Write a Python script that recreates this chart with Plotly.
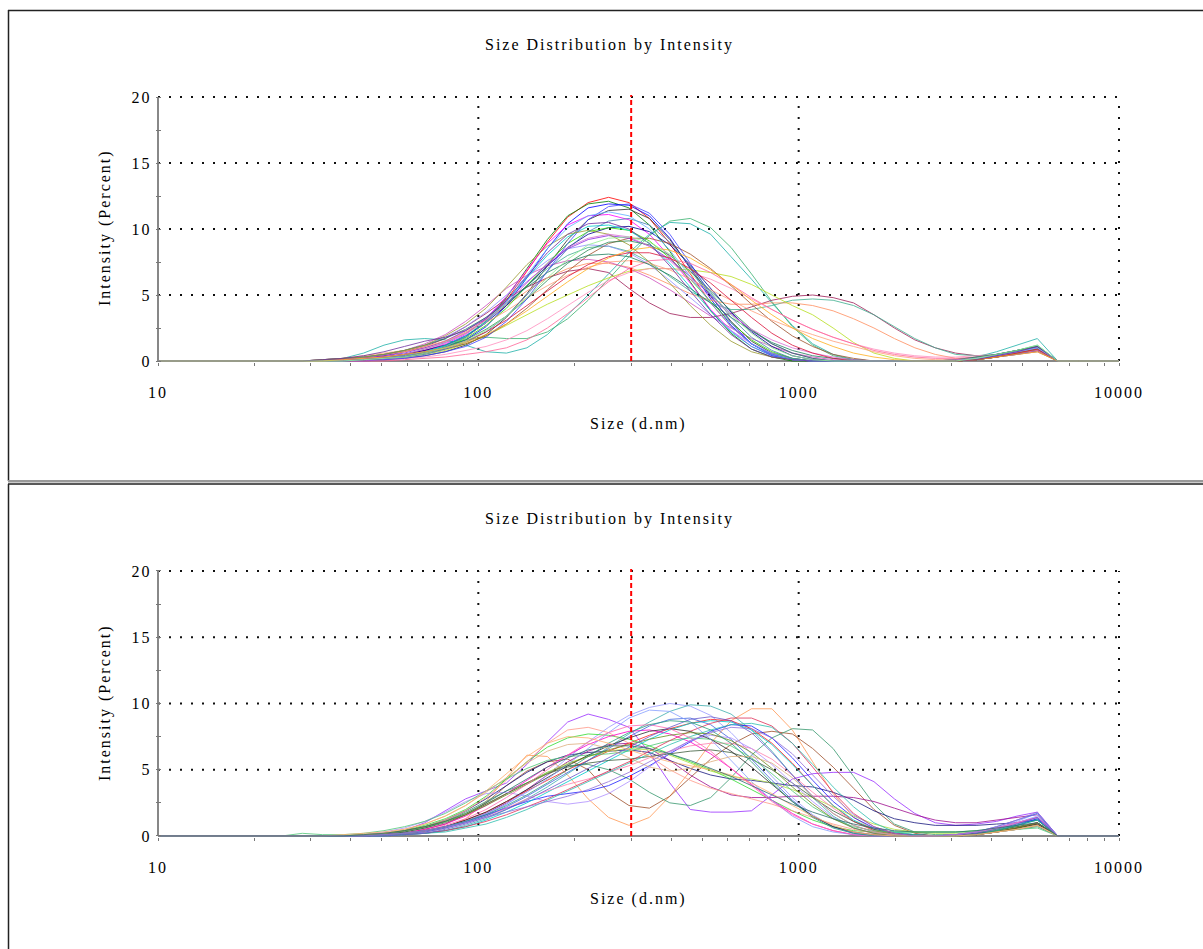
import plotly.graph_objects as go

# ---------------- data ----------------
# size classes (d.nm) of the instrument, from 10 nm to 10000 nm
SIZES_NM = [10.10, 11.70, 13.54, 15.69, 18.17, 21.04, 24.36, 28.21, 32.67, 37.84,
            43.82, 50.75, 58.77, 68.06, 78.82, 91.28, 105.7, 122.4, 141.8, 164.2,
            190.1, 220.2, 255.0, 295.3, 342.0, 396.1, 458.7, 531.2, 615.1, 712.4,
            825.0, 955.4, 1106, 1281, 1484, 1718, 1990, 2305, 2669, 3091,
            3580, 4145, 4801, 5560, 6439, 7456, 8635, 10000]
RUN_START_NM = 28.21   # each run below lists intensities from this class to 6439 nm

# ---- upper chart runs (Intensity %) ----
top_run_01 = [0,0,0.1,0.2,0.3, 0.5,0.8,1.2,1.8,2.9, 4.6,6.8,9.0,10.9,12.0, 12.4,12.0,10.8,8.9,6.6, 4.4,2.6,1.3,0.5,0.1, 0,0,0,0,0, 0,0,0,0.1,0.3, 0.6,0.9,0]
top_run_02 = [0,0,0,0.1,0.2, 0.4,0.7,1.1,1.8,3.0, 4.8,7.0,9.2,11.0,11.9, 12.1,11.6,10.3,8.3,6.0, 3.8,2.1,0.9,0.3,0, 0,0,0,0,0, 0,0,0,0.2,0.4, 0.7,1.0,0]
top_run_03 = [0,0,0,0.1,0.2, 0.3,0.6,1.0,1.6,2.6, 4.2,6.3,8.5,10.4,11.6, 11.9,11.8,11.0,9.3,7.0, 4.7,2.7,1.3,0.5,0.1, 0,0,0,0,0, 0,0,0,0.2,0.4, 0.7,1.0,0]
top_run_04 = [0,0,0.1,0.2,0.3, 0.5,0.8,1.3,2.0,3.2, 4.9,6.9,8.9,10.3,11.0, 11.1,10.7,9.6,7.9,5.9, 3.9,2.3,1.1,0.4,0.1, 0,0,0,0,0, 0,0,0,0.2,0.3, 0.6,0.8,0]
top_run_05 = [0,0,0,0,0.1, 0.2,0.4,0.7,1.2,2.0, 3.3,5.1,7.2,9.2,10.7, 11.4,11.5,10.8,9.2,7.1, 4.9,3.0,1.5,0.6,0.2, 0,0,0,0,0, 0,0,0,0.1,0.3, 0.6,0.9,0]
top_run_06 = [0,0,0.2,0.6,1.2, 1.6,1.7,1.6,1.2,0.7, 0.6,1.0,2.0,3.5,5.0, 6.6,8.2,9.6,10.5,10.4, 9.6,7.9,6.2,4.4,2.7, 1.3,0.5,0.1,0,0, 0,0,0.1,0.3,0.7, 1.2,1.7,0]
top_run_07 = [0,0,0,0.1,0.2, 0.4,0.7,1.1,1.6,1.8, 1.7,1.7,2.2,3.2,4.6, 6.2,7.9,9.5,10.6,10.8, 10.1,8.6,6.6,4.5,2.6, 1.2,0.4,0.1,0,0, 0,0,0,0.2,0.4, 0.7,1.0,0]
top_run_08 = [0,0,0.1,0.2,0.4, 0.7,1.1,1.7,2.6,3.6, 4.7,5.6,6.3,6.8,7.0, 6.7,5.5,4.4,3.6,3.3, 3.3,3.6,4.1,4.6,4.9, 5.0,4.8,4.4,3.5,2.5, 1.6,1.0,0.6,0.4,0.4, 0.6,0.8,0]
top_run_09 = [0,0,0.1,0.2,0.3, 0.5,0.9,1.4,2.1,3.1, 4.3,5.7,7.0,8.0,8.6, 8.7,8.3,7.5,6.4,5.3, 4.4,3.9,3.9,4.2,4.6, 4.7,4.6,4.2,3.5,2.6, 1.7,1.0,0.5,0.4,0.5, 0.8,1.2,0]
top_run_10 = [0,0,0.1,0.3,0.5, 0.7,1.0,1.5,2.2,3.1, 4.2,5.3,6.3,7.0,7.4, 7.4,7.1,6.5,5.8,5.1, 4.6,4.3,4.3,4.4,4.4, 4.2,3.8,3.2,2.5,1.7, 1.0,0.5,0.2,0.2,0.4, 0.6,0.8,0]
top_run_11 = [0,0,0,0.1,0.2, 0.3,0.5,0.8,1.3,1.9, 2.7,3.5,4.3,5.0,5.7, 6.3,6.8,7.0,7.0,6.9, 6.7,6.4,5.8,5.0,4.2, 3.5,2.5,1.4,0.6,0.2, 0,0,0,0.1,0.3, 0.5,0.7,0]
top_run_12 = [0,0.1,0.2,0.3,0.5, 0.8,1.3,2.0,3.0,4.2, 5.5,6.5,7.2,7.6,7.7, 7.5,7.0,6.3,5.4,4.4, 3.4,2.5,1.7,1.1,0.6, 0.3,0.1,0,0,0, 0,0,0,0.1,0.3, 0.5,0.7,0]
top_run_13 = [0,0,0,0,0.1, 0.2,0.3,0.5,0.8,1.1, 1.6,2.3,3.2,4.2,5.2, 6.1,6.7,7.0,7.0,6.7, 6.2,5.5,4.7,3.9,3.1, 2.4,1.8,1.3,0.9,0.6, 0.4,0.3,0.3,0.4,0.5, 0.7,0.9,0]
top_run_14 = [0,0,0.1,0.2,0.3, 0.5,0.8,1.2,1.9,2.9, 4.2,5.7,7.2,8.6,9.6, 10.1,10.2,9.8,8.8,7.3, 5.5,3.7,2.2,1.1,0.4, 0.1,0,0,0,0, 0,0,0,0.2,0.4, 0.6,0.8,0]
top_run_15 = [0,0,0.1,0.2,0.3, 0.4,0.6,0.9,1.3,1.9, 2.8,4.0,5.4,6.8,8.0, 8.9,9.3,9.3,8.9,8.1, 7.0,5.7,4.3,3.0,1.9, 1.1,0.5,0.2,0,0, 0,0,0.1,0.2,0.4, 0.6,0.9,0]
top_run_16 = [0,0.1,0.2,0.3,0.5, 0.8,1.2,1.8,2.6,3.7, 5.0,6.4,7.6,8.5,8.8, 8.7,8.2,7.3,6.1,4.8, 3.5,2.3,1.3,0.6,0.2, 0,0,0,0,0, 0,0,0,0.2,0.4, 0.7,1.0,0]
top_run_17 = [0,0,0,0.1,0.2, 0.4,0.7,1.1,1.7,2.7, 4.0,5.7,7.4,8.9,9.8, 10.1,9.9,9.1,7.8,6.2, 4.5,2.9,1.6,0.7,0.2, 0,0,0,0,0, 0,0,0,0.1,0.3, 0.6,0.8,0]
top_run_18 = [0,0,0.1,0.2,0.4, 0.6,1.0,1.5,2.3,3.3, 4.6,6.0,7.3,8.5,9.2, 9.5,9.3,8.7,7.7,6.4, 5.0,3.6,2.3,1.3,0.6, 0.2,0,0,0,0, 0,0,0,0.2,0.5, 0.8,1.1,0]
top_run_19 = [0,0.1,0.2,0.4,0.6, 0.8,1.1,1.5,2.1,2.9, 3.8,4.8,5.7,6.5,7.1, 7.5,7.6,7.4,6.9,6.2, 5.4,4.6,3.8,3.1,2.5, 2.0,1.5,1.1,0.7,0.4, 0.2,0.1,0.1,0.2,0.4, 0.6,0.8,0]
top_run_20 = [0,0,0,0.1,0.2, 0.4,0.7,1.1,1.6,2.4, 3.4,4.7,6.1,7.4,8.4, 9.0,9.1,8.8,8.0,6.8, 5.3,3.8,2.4,1.3,0.6, 0.2,0,0,0,0, 0,0,0,0.2,0.5, 0.8,1.1,0]
top_run_21 = [0,0,0,0.1,0.2, 0.4,0.7,1.2,1.9,3.0, 4.5,6.3,8.0,9.4,10.2, 10.3,9.9,8.9,7.4,5.6, 3.8,2.2,1.1,0.4,0.1, 0,0,0,0,0, 0,0,0,0.2,0.4, 0.6,0.9,0]
top_run_22 = [0,0,0,0,0.1, 0.2,0.4,0.7,1.1,1.8, 3.0,4.7,6.8,8.9,10.7, 11.7,11.9,11.2,9.6,7.4, 5.0,2.9,1.3,0.4,0.1, 0,0,0,0,0, 0,0,0,0.1,0.3, 0.5,0.8,0]
top_run_23 = [0,0,0,0,0, 0.1,0.2,0.3,0.5,0.7, 1.0,1.6,2.5,3.6,4.8, 6.0,7.0,7.6,7.7,7.4, 6.7,5.8,4.8,3.9,3.1, 2.4,1.8,1.3,0.8,0.5, 0.3,0.2,0.2,0.3,0.4, 0.6,0.8,0]
top_run_24 = [0,0.1,0.2,0.3,0.5, 0.8,1.2,1.7,2.4,3.3, 4.4,5.6,6.7,7.5,8.0, 8.1,7.9,7.3,6.5,5.5, 4.4,3.3,2.3,1.4,0.8, 0.4,0.2,0.1,0,0, 0,0,0.1,0.3,0.5, 0.8,1.1,0]
top_run_25 = [0,0.1,0.2,0.3,0.5, 0.8,1.2,1.9,2.8,4.0, 5.6,7.3,8.7,9.6,9.9, 9.6,8.8,7.5,5.9,4.2, 2.7,1.5,0.7,0.3,0.1, 0,0,0,0,0, 0,0,0,0.1,0.3, 0.6,0.9,0]
top_run_26 = [0,0,0,0.1,0.2, 0.3,0.5,0.9,1.4,2.2, 3.4,5.0,6.8,8.5,9.8, 10.6,10.8,10.3,9.0,7.2, 5.2,3.3,1.8,0.8,0.2, 0,0,0,0,0, 0,0,0,0.2,0.4, 0.7,1.0,0]
top_run_27 = [0,0,0.1,0.2,0.3, 0.5,0.9,1.4,2.1,3.1, 4.4,5.9,7.4,8.6,9.3, 9.6,9.4,8.7,7.6,6.2, 4.8,3.5,2.4,1.6,1.0, 0.6,0.3,0.1,0,0, 0,0,0.1,0.2,0.4, 0.7,1.0,0]
top_run_28 = [0,0,0,0.1,0.2, 0.4,0.7,1.0,1.5,2.2, 3.1,4.2,5.3,6.4,7.3, 7.9,8.2,8.2,7.8,7.0, 5.9,4.6,3.3,2.1,1.2, 0.6,0.2,0,0,0, 0,0,0,0.1,0.3, 0.6,0.9,0]
top_run_29 = [0,0,0,0.1,0.2, 0.4,0.7,1.1,1.8,2.9, 4.5,6.5,8.5,10.1,11.0, 11.3,11.0,10.0,8.4,6.4, 4.4,2.6,1.3,0.5,0.1, 0,0,0,0,0, 0,0,0,0.2,0.4, 0.7,1.0,0]
top_run_30 = [0,0,0.1,0.2,0.3, 0.5,0.7,1.0,1.4,2.0, 2.8,3.8,4.9,6.0,7.0, 7.8,8.4,8.6,8.4,7.8, 6.9,5.8,4.6,3.5,2.5, 1.7,1.1,0.6,0.3,0.1, 0,0,0,0.1,0.3, 0.5,0.7,0]
top_run_31 = [0,0.1,0.2,0.4,0.7, 1.1,1.5,1.8,2.3,3.2, 4.6,6.4,8.2,9.6,10.4, 10.5,10.0,8.9,7.2,5.3, 3.5,2.0,0.9,0.3,0.1, 0,0,0,0,0, 0,0,0,0.1,0.4, 0.7,1.1,0]
top_run_32 = [0,0,0,0.1,0.2, 0.3,0.6,1.0,1.5,2.3, 3.4,4.8,6.3,7.7,8.8, 9.3,9.4,9.0,8.1,6.7, 5.1,3.5,2.1,1.0,0.4, 0.1,0,0,0,0, 0,0,0,0.2,0.5, 0.8,1.2,0]

# ---- lower chart runs (Intensity %) ----
bottom_run_01 = [0,0,0,0,0.1, 0.4,1.0,1.9,2.8,3.4, 4.0,5.4,7.1,8.6,9.2, 8.8,8.2,6.3,4.0,2.0, 1.8,1.8,1.9,3.1,4.3, 4.7,4.8,4.8,4.1,2.8, 1.7,1.0,0.8,0.9,1.1, 1.5,1.8,0]
bottom_run_02 = [0,0,0,0,0, 0.1,0.3,0.6,1.3,2.6, 4.4,6.1,6.0,4.6,2.8, 1.4,0.8,1.4,3.0,4.9, 7.0,8.7,9.6,9.6,8.0, 5.6,3.2,1.4,0.5,0.1, 0,0,0,0.1,0.3, 0.6,1.0,0]
bottom_run_03 = [0,0,0,0,0.1, 0.2,0.5,0.9,1.6,2.5, 3.8,4.9,5.6,5.8,5.0, 3.3,2.3,2.1,3.0,4.4, 5.8,6.9,7.7,7.9,7.7, 6.6,5.2,3.6,2.0,0.8, 0.2,0,0,0.1,0.3, 0.5,0.8,0]
bottom_run_04 = [0,0,0,0,0.1, 0.3,0.6,1.1,1.8,2.6, 3.4,4.0,4.8,5.3,5.4, 5.0,4.3,3.3,2.5,2.3, 2.9,4.4,6.1,7.4,8.1, 8.0,6.6,4.5,2.4,0.9, 0.3,0.1,0.1,0.2,0.3, 0.5,0.7,0]
bottom_run_05 = [0,0,0,0.1,0.2, 0.4,0.7,1.2,1.9,2.8, 3.8,4.8,5.6,6.1,6.3, 6.4,6.5,6.3,5.7,5.1, 4.6,4.3,4.2,4.0,3.8, 3.7,3.3,2.7,1.9,1.3, 1.0,0.8,0.8,0.8,0.9, 1.0,1.2,0]
bottom_run_06 = [0,0,0,0,0.1, 0.2,0.4,0.7,1.1,1.7, 2.5,3.5,4.6,5.6,6.4, 6.9,7.0,6.6,5.7,4.6, 3.7,3.1,2.9,2.9,3.0, 3.0,3.0,2.9,2.6,2.1, 1.6,1.2,1.0,1.0,1.2, 1.4,1.6,0]
bottom_run_07 = [0,0,0,0,0, 0.1,0.3,0.6,1.0,1.6, 2.4,3.4,4.6,5.9,7.1, 8.2,9.1,9.7,10.0,9.8, 9.1,7.8,6.2,4.5,2.9, 1.6,0.7,0.2,0,0, 0,0,0,0.2,0.6, 1.1,1.7,0]
bottom_run_08 = [0,0,0,0,0, 0.1,0.2,0.4,0.8,1.3, 2.0,2.8,3.7,4.7,5.7, 6.7,7.7,8.6,9.4,9.9, 9.8,9.2,8.0,6.4,4.6, 2.9,1.5,0.6,0.2,0, 0,0,0,0.2,0.5, 0.9,1.3,0]
bottom_run_09 = [0,0,0,0,0.1, 0.2,0.4,0.7,1.2,1.8, 2.6,3.4,4.2,5.0,5.7, 6.4,7.0,7.6,8.1,8.5, 8.8,8.7,8.1,7.0,5.5, 3.8,2.3,1.1,0.4,0.1, 0,0,0,0.1,0.3, 0.6,0.9,0]
bottom_run_10 = [0,0,0,0,0.1, 0.2,0.4,0.7,1.1,1.6, 2.1,2.6,3.0,3.2,3.4, 3.8,4.5,5.3,6.2,7.1, 7.9,8.4,8.3,7.4,5.9, 4.2,2.6,1.4,0.6,0.2, 0.1,0,0,0.1,0.4, 0.8,1.3,0]
bottom_run_11 = [0,0,0,0.1,0.2, 0.4,0.8,1.3,2.0,3.0, 4.3,5.6,6.7,7.4,7.7, 7.6,7.3,6.8,6.2,5.6, 5.0,4.3,3.5,2.7,1.9, 1.2,0.7,0.4,0.3,0.3, 0.3,0.3,0.3,0.4,0.5, 0.7,0.9,0]
bottom_run_12 = [0,0,0,0.1,0.2, 0.4,0.7,1.2,1.9,2.9, 4.2,5.6,7.0,8.0,8.2, 7.8,7.0,6.0,5.0,4.2, 3.6,3.2,2.8,2.4,1.9, 1.4,0.9,0.5,0.2,0.1, 0,0,0,0.1,0.3, 0.6,0.9,0]
bottom_run_13 = [0,0,0,0,0.1, 0.2,0.5,0.9,1.5,2.3, 3.2,4.2,5.2,6.1,6.9, 7.5,7.9,8.0,7.7,7.1, 6.2,5.1,3.9,2.7,1.7, 0.9,0.4,0.1,0,0, 0,0,0.1,0.3,0.6, 1.0,1.4,0]
bottom_run_14 = [0,0,0,0,0, 0.1,0.2,0.4,0.7,1.2, 1.8,2.5,3.3,4.1,4.9, 5.7,6.5,7.3,8.0,8.5, 8.7,8.6,8.0,6.9,5.4, 3.8,2.3,1.2,0.5,0.2, 0,0,0,0.1,0.4, 0.8,1.2,0]
bottom_run_15 = [0,0,0,0.1,0.2, 0.4,0.7,1.1,1.7,2.4, 3.2,4.0,4.8,5.5,6.0, 6.4,6.6,6.5,6.1,5.5, 4.9,4.5,4.3,4.0,3.5, 2.9,2.2,1.5,0.9,0.5, 0.3,0.2,0.2,0.3,0.4, 0.6,0.8,0]
bottom_run_16 = [0,0,0,0,0.1, 0.2,0.3,0.6,1.0,1.5, 2.1,2.8,3.4,3.9,4.3, 4.8,5.3,5.9,6.4,6.8, 7.0,7.0,6.6,5.8,4.6, 3.3,2.1,1.1,0.5,0.2, 0,0,0,0.1,0.3, 0.5,0.8,0]
bottom_run_17 = [0,0,0,0,0.1, 0.3,0.6,1.0,1.6,2.4, 3.2,4.0,4.7,5.2,5.5, 5.7,5.8,6.0,6.2,6.4, 6.5,6.3,5.8,5.0,4.0, 2.9,1.9,1.1,0.5,0.2, 0.1,0,0.1,0.2,0.4, 0.7,1.0,0]
bottom_run_18 = [0,0,0,0,0.1, 0.2,0.3,0.6,1.0,1.5, 2.2,3.0,3.9,4.8,5.7, 6.6,7.5,8.3,8.8,8.9, 8.4,7.3,5.8,4.2,2.7, 1.5,0.7,0.2,0,0, 0,0,0.1,0.3,0.7, 1.2,1.7,0]
bottom_run_19 = [0,0,0,0.1,0.3, 0.6,1.1,1.8,2.6,3.2, 3.3,3.0,2.6,2.4,2.6, 3.2,4.1,5.2,6.3,7.2, 7.6,7.4,6.6,5.4,4.0, 2.6,1.4,0.6,0.2,0, 0,0,0.1,0.3,0.6, 1.0,1.4,0]
bottom_run_20 = [0.2,0.1,0.1,0.2,0.4, 0.7,1.1,1.7,2.5,3.4, 4.3,5.1,5.7,6.0,6.1, 6.2,6.4,6.8,7.2,7.4, 7.3,6.8,5.9,4.7,3.4, 2.2,1.3,0.7,0.4,0.3, 0.3,0.3,0.3,0.3,0.4, 0.5,0.6,0]
bottom_run_21 = [0,0,0,0,0, 0.1,0.2,0.4,0.7,1.1, 1.6,2.2,2.8,3.5,4.2, 4.9,5.6,6.4,7.2,7.9, 8.5,8.9,8.9,8.3,7.0, 5.2,3.3,1.7,0.7,0.2, 0,0,0,0.1,0.3, 0.6,1.0,0]
bottom_run_22 = [0,0,0,0,0.1, 0.2,0.4,0.7,1.2,1.8, 2.6,3.5,4.4,5.3,6.1, 6.8,7.4,7.9,8.1,7.9, 7.3,6.4,5.2,3.9,2.6, 1.5,0.7,0.3,0.1,0, 0,0,0,0.1,0.3, 0.6,0.9,0]
bottom_run_23 = [0,0,0,0,0.1, 0.2,0.4,0.7,1.1,1.7, 2.4,3.3,4.3,5.4,6.6, 7.8,8.9,9.5,9.4,8.6, 7.3,5.7,4.1,2.7,1.5, 0.7,0.3,0.1,0,0, 0,0,0.1,0.3,0.6, 1.0,1.5,0]
bottom_run_24 = [0,0,0,0,0, 0.1,0.2,0.3,0.6,0.9, 1.4,2.0,2.7,3.4,4.1, 4.8,5.5,6.2,6.9,7.5, 8.0,8.4,8.5,8.2,7.0, 5.4,3.7,2.2,1.0,0.3, 0.1,0,0,0.1,0.3, 0.5,0.8,0]
bottom_run_25 = [0,0,0,0.1,0.2, 0.4,0.7,1.1,1.6,2.3, 3.1,3.9,4.7,5.4,6.0, 6.5,6.9,7.3,7.6,7.8, 7.7,7.2,6.3,5.1,3.7, 2.4,1.3,0.6,0.2,0, 0,0,0,0.1,0.3, 0.6,1.0,0]
bottom_run_26 = [0,0,0,0,0.1, 0.2,0.4,0.8,1.3,2.0, 2.9,3.9,5.0,6.1,7.1, 7.8,8.3,8.4,8.1,7.4, 6.4,5.1,3.8,2.6,1.6, 0.9,0.4,0.1,0,0, 0,0,0.1,0.3,0.6, 1.0,1.4,0]
bottom_run_27 = [0,0,0,0,0, 0.1,0.2,0.5,0.9,1.4, 2.0,2.7,3.5,4.3,5.1, 5.9,6.7,7.5,8.2,8.8, 9.0,8.7,7.8,6.3,4.6, 3.0,1.7,0.8,0.3,0.1, 0,0,0,0.2,0.5, 0.9,1.4,0]
bottom_run_28 = [0,0,0,0.1,0.2, 0.5,0.9,1.5,2.3,3.3, 4.4,5.5,6.4,6.9,7.0, 6.6,5.9,5.2,4.9,5.1, 5.6,6.0,6.0,5.5,4.4, 3.0,1.7,0.8,0.3,0.1, 0,0,0,0.1,0.3, 0.5,0.8,0]
bottom_run_29 = [0,0,0,0,0.1, 0.2,0.4,0.7,1.1,1.6, 2.3,3.1,4.0,5.0,6.0, 7.0,7.8,8.4,8.7,8.6, 8.0,7.0,5.6,4.0,2.6, 1.4,0.6,0.2,0,0, 0,0,0,0.1,0.4, 0.8,1.2,0]
bottom_run_30 = [0,0,0.1,0.2,0.3, 0.5,0.9,1.5,2.3,3.4, 4.7,6.0,7.0,7.5,7.4, 7.0,6.5,6.0,5.6,5.3, 5.0,4.6,4.0,3.2,2.3, 1.5,0.8,0.3,0.1,0, 0,0,0,0.1,0.3, 0.5,0.8,0]
bottom_run_31 = [0,0,0,0,0.1, 0.2,0.4,0.7,1.0,1.4, 1.8,2.2,2.6,3.0,3.5, 4.1,4.8,5.6,6.4,7.2, 7.8,8.2,8.1,7.4,6.2, 4.6,3.0,1.6,0.7,0.2, 0,0,0.1,0.3,0.7, 1.2,1.8,0]
bottom_run_32 = [0,0,0,0.1,0.2, 0.4,0.7,1.1,1.7,2.5, 3.4,4.3,5.2,5.9,6.5, 6.8,6.8,6.6,6.2,5.7, 5.1,4.5,3.8,3.1,2.4, 1.8,1.3,0.9,0.6,0.4, 0.3,0.3,0.3,0.4,0.6, 0.8,1.0,0]

TOP_RUNS = [top_run_01, top_run_02, top_run_03, top_run_04, top_run_05, top_run_06,
            top_run_07, top_run_08, top_run_09, top_run_10, top_run_11, top_run_12,
            top_run_13, top_run_14, top_run_15, top_run_16, top_run_17, top_run_18,
            top_run_19, top_run_20, top_run_21, top_run_22, top_run_23, top_run_24,
            top_run_25, top_run_26, top_run_27, top_run_28, top_run_29, top_run_30,
            top_run_31, top_run_32]
BOTTOM_RUNS = [bottom_run_01, bottom_run_02, bottom_run_03, bottom_run_04, bottom_run_05,
               bottom_run_06, bottom_run_07, bottom_run_08, bottom_run_09, bottom_run_10,
               bottom_run_11, bottom_run_12, bottom_run_13, bottom_run_14, bottom_run_15,
               bottom_run_16, bottom_run_17, bottom_run_18, bottom_run_19, bottom_run_20,
               bottom_run_21, bottom_run_22, bottom_run_23, bottom_run_24, bottom_run_25,
               bottom_run_26, bottom_run_27, bottom_run_28, bottom_run_29, bottom_run_30,
               bottom_run_31, bottom_run_32]

TOP_COLORS = ["#ff0000", "#008000", "#0000ff", "#ff00ff", "#303030", "#20b2aa",
              "#3cb371", "#a0205a", "#40b090", "#ff9060", "#b8e020", "#d050c0",
              "#ff90c0", "#000090", "#a0522d", "#9090ff", "#33dd00", "#8a2be2",
              "#ffa07a", "#2e8b57", "#00d0d0", "#4040ff", "#ff6699", "#208060",
              "#9a9a30", "#4682b4", "#da70d6", "#dc143c", "#60b0ff", "#ffb020",
              "#7030a0", "#90ee90"]
BOTTOM_COLORS = ["#9b30ff", "#ff9955", "#a0522d", "#3a9a70", "#1a1a80", "#a01090",
                 "#9999ff", "#40b0b0", "#ff2020", "#2020ff", "#33dd33", "#ff9a8a",
                 "#ff00cc", "#00cccc", "#b0e040", "#ff80b0", "#406040", "#4169e1",
                 "#b090ff", "#50c878", "#e0305a", "#303030", "#87a0ff", "#30c0b0",
                 "#6b8e23", "#ff69b4", "#6a5acd", "#e0b080", "#2e9e80", "#ffb070",
                 "#9370db", "#2f6f6f"]

TITLE = "Size Distribution by Intensity"
X_TITLE = "Size (d.nm)"
Y_TITLE = "Intensity (Percent)"
X_DECADES = [10, 100, 1000, 10000]
X_DECADE_LABELS = ["10", "100", "1000", "10000"]
Y_TICKS = [0, 2.5, 5, 7.5, 10, 12.5, 15, 17.5, 20]
Y_TICK_LABELS = ["0", "", "5", "", "10", "", "15", "", "20"]
Y_GRID = [5, 10, 15, 20]
X_GRID = [100, 1000, 10000]
MARKER_NM = 300

# ---------------- figure ----------------
W, H = 1203, 949
FONT = "Liberation Serif, Times New Roman, serif"
FS = 16
first = SIZES_NM.index(RUN_START_NM)


def full_run(vals):
    return [0.0] * first + list(vals) + [0.0] * (len(SIZES_NM) - first - len(vals))


x_tickvals, x_ticktext = [], []
for i, d in enumerate(X_DECADES):
    x_tickvals.append(d)
    x_ticktext.append(X_DECADE_LABELS[i])
    if d < 10000:
        for m in range(2, 10):
            x_tickvals.append(d * m)
            x_ticktext.append("")

fig = go.Figure()
for runs, colors, xa, ya in [(TOP_RUNS, TOP_COLORS, "x", "y"),
                             (BOTTOM_RUNS, BOTTOM_COLORS, "x2", "y2")]:
    for vals, col in zip(runs, colors):
        fig.add_trace(go.Scatter(x=SIZES_NM, y=full_run(vals), mode="lines",
                                 line=dict(color=col, width=1), opacity=0.8,
                                 xaxis=xa, yaxis=ya, hoverinfo="skip"))

x_dom = [156.4 / W, 1120.6 / W]
top_dom = [1 - 362.32 / H, 1 - 93.04 / H]
bot_dom = [1 - 837.3 / H, 1 - 567.0 / H]

common_x = dict(type="log", range=[0.995, 4.005], domain=x_dom, showgrid=False,
                zeroline=False, showline=False, tickvals=x_tickvals, ticktext=x_ticktext,
                ticks="outside", ticklen=3, tickwidth=1, tickcolor="#777",
                ticklabelstandoff=12, tickfont=dict(family=FONT, size=FS, color="black"),
                automargin=False, fixedrange=True)
common_y = dict(range=[-0.1, 20.3], showgrid=False, zeroline=False, showline=False,
                tickvals=Y_TICKS, ticktext=Y_TICK_LABELS, ticks="inside", ticklen=5,
                tickwidth=1, tickcolor="#777", ticklabelstandoff=4,
                tickfont=dict(family=FONT, size=FS, color="black"),
                automargin=False, fixedrange=True)

fig.update_layout(
    width=W, height=H, margin=dict(l=0, r=0, t=0, b=0),
    paper_bgcolor="white", plot_bgcolor="white", showlegend=False,
    font=dict(family=FONT, size=FS, color="black"),
    xaxis=dict(common_x, anchor="y"),
    yaxis=dict(common_y, domain=top_dom, anchor="x"),
    xaxis2=dict(common_x, anchor="y2"),
    yaxis2=dict(common_y, domain=bot_dom, anchor="x2"),
)

shapes = []
for xr, yr in [("x", "y"), ("x2", "y2")]:
    for g in Y_GRID:
        shapes.append(dict(type="line", xref=xr, yref=yr, x0=10, x1=10000, y0=g, y1=g,
                           line=dict(color="#111", width=2, dash="2px,9px"), layer="below"))
    for g in X_GRID:
        shapes.append(dict(type="line", xref=xr, yref=yr, x0=g, x1=g, y0=0, y1=20,
                           line=dict(color="#111", width=2, dash="2px,9px"), layer="below"))
    shapes.append(dict(type="line", xref=xr, yref=yr, x0=10, x1=10000, y0=0, y1=0,
                       line=dict(color="#888", width=2), layer="below"))
    shapes.append(dict(type="line", xref=xr, yref=yr, x0=10, x1=10, y0=0, y1=20,
                       line=dict(color="#888", width=2), layer="below"))
    shapes.append(dict(type="line", xref=xr, yref=yr, x0=MARKER_NM, x1=MARKER_NM,
                       y0=0, y1=20.15, line=dict(color="red", width=2, dash="5px,3px"),
                       layer="above"))

# panel frames
shapes += [
    dict(type="line", xref="paper", yref="paper", x0=8 / W, x1=1.01,
         y0=1 - 10.5 / H, y1=1 - 10.5 / H, line=dict(color="#222", width=1.5)),
    dict(type="line", xref="paper", yref="paper", x0=8.5 / W, x1=8.5 / W,
         y0=1 - 10 / H, y1=1 - 481 / H, line=dict(color="#222", width=1.5)),
    dict(type="line", xref="paper", yref="paper", x0=8 / W, x1=1.01,
         y0=1 - 481.2 / H, y1=1 - 481.2 / H, line=dict(color="#999", width=2.5)),
    dict(type="line", xref="paper", yref="paper", x0=8 / W, x1=1.01,
         y0=1 - 484 / H, y1=1 - 484 / H, line=dict(color="#222", width=1.5)),
    dict(type="line", xref="paper", yref="paper", x0=8.5 / W, x1=8.5 / W,
         y0=1 - 484 / H, y1=-0.01, line=dict(color="#222", width=1.5)),
]
fig.update_layout(shapes=shapes)

annots = []
for title_y, xt_y, yt_y in [(45, 424, 228), (519, 899, 703)]:
    annots.append(dict(text=TITLE, xref="paper", yref="paper", x=609 / W, y=1 - title_y / H,
                       xanchor="center", yanchor="middle", showarrow=False,
                       font=dict(family=FONT, size=FS, color="black")))
    annots.append(dict(text=X_TITLE, xref="paper", yref="paper", x=638 / W, y=1 - xt_y / H,
                       xanchor="center", yanchor="middle", showarrow=False,
                       font=dict(family=FONT, size=FS, color="black")))
    annots.append(dict(text=Y_TITLE, xref="paper", yref="paper", x=105 / W, y=1 - yt_y / H,
                       xanchor="center", yanchor="middle", showarrow=False, textangle=-90,
                       font=dict(family=FONT, size=FS, color="black")))
fig.update_layout(annotations=annots)

spacing_js = ("var st=document.createElement('style');"
              "st.innerHTML='.main-svg text{letter-spacing:2px;}';"
              "document.head.appendChild(st);")
fig.write_html("out.html", post_script=spacing_js, config={"displayModeBar": False})
